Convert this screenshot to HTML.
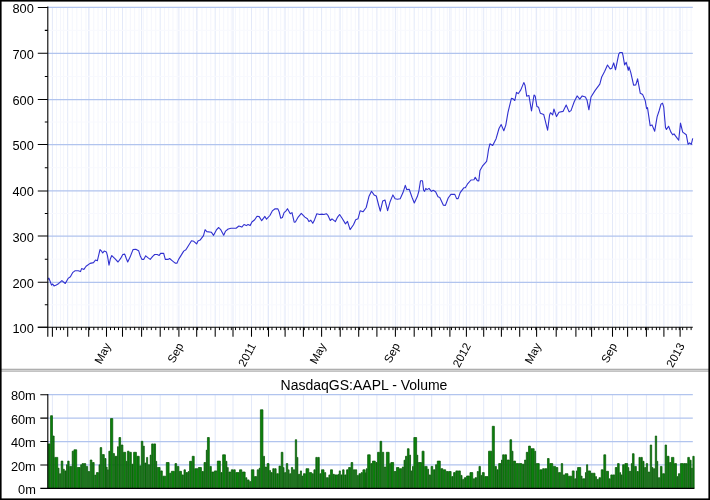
<!DOCTYPE html><html><head><meta charset="utf-8"><title>AAPL</title>
<style>html,body{margin:0;padding:0;background:#fff}svg{display:block}text{font-family:"Liberation Sans",Arial,Helvetica,sans-serif;fill:#000}</style></head><body>
<svg width="710" height="500" viewBox="0 0 710 500">
<rect x="0" y="0" width="710" height="500" fill="#fff"/>
<path d="M56.43 7.2V327.3M60.45 7.2V327.3M63.67 7.2V327.3M72.27 7.2V327.3M76.83 7.2V327.3M81.40 7.2V327.3M85.96 7.2V327.3M89.55 7.2V327.3M93.79 7.2V327.3M98.02 7.2V327.3M102.26 7.2V327.3M110.50 7.2V327.3M114.50 7.2V327.3M118.50 7.2V327.3M125.97 7.2V327.3M130.31 7.2V327.3M134.65 7.2V327.3M139.00 7.2V327.3M143.37 7.2V327.3M146.91 7.2V327.3M151.34 7.2V327.3M155.77 7.2V327.3M164.45 7.2V327.3M168.70 7.2V327.3M172.95 7.2V327.3M177.20 7.2V327.3M181.44 7.2V327.3M184.83 7.2V327.3M189.07 7.2V327.3M193.31 7.2V327.3M197.58 7.2V327.3M201.99 7.2V327.3M206.39 7.2V327.3M210.80 7.2V327.3M219.44 7.2V327.3M223.68 7.2V327.3M227.91 7.2V327.3M231.30 7.2V327.3M235.52 7.2V327.3M239.73 7.2V327.3M243.93 7.2V327.3M247.30 7.2V327.3M255.75 7.2V327.3M260.00 7.2V327.3M263.40 7.2V327.3M267.65 7.2V327.3M271.99 7.2V327.3M276.36 7.2V327.3M280.73 7.2V327.3M284.23 7.2V327.3M288.28 7.2V327.3M292.26 7.2V327.3M296.24 7.2V327.3M300.22 7.2V327.3M304.31 7.2V327.3M308.86 7.2V327.3M313.41 7.2V327.3M317.05 7.2V327.3M326.03 7.2V327.3M330.46 7.2V327.3M334.89 7.2V327.3M339.31 7.2V327.3M342.72 7.2V327.3M346.93 7.2V327.3M351.13 7.2V327.3M355.34 7.2V327.3M359.61 7.2V327.3M363.25 7.2V327.3M367.80 7.2V327.3M372.35 7.2V327.3M380.92 7.2V327.3M384.94 7.2V327.3M388.97 7.2V327.3M392.99 7.2V327.3M397.19 7.2V327.3M400.77 7.2V327.3M405.25 7.2V327.3M409.72 7.2V327.3M418.37 7.2V327.3M422.53 7.2V327.3M426.70 7.2V327.3M430.87 7.2V327.3M435.17 7.2V327.3M439.50 7.2V327.3M443.83 7.2V327.3M447.30 7.2V327.3M451.47 7.2V327.3M455.40 7.2V327.3M459.33 7.2V327.3M463.26 7.2V327.3M469.86 7.2V327.3M474.19 7.2V327.3M477.64 7.2V327.3M481.97 7.2V327.3M486.36 7.2V327.3M490.78 7.2V327.3M495.20 7.2V327.3M498.74 7.2V327.3M503.06 7.2V327.3M507.22 7.2V327.3M511.38 7.2V327.3M515.54 7.2V327.3M523.08 7.2V327.3M527.30 7.2V327.3M531.53 7.2V327.3M535.75 7.2V327.3M540.16 7.2V327.3M544.62 7.2V327.3M549.07 7.2V327.3M553.53 7.2V327.3M557.14 7.2V327.3M561.83 7.2V327.3M566.52 7.2V327.3M571.21 7.2V327.3M578.89 7.2V327.3M582.63 7.2V327.3M586.37 7.2V327.3M590.10 7.2V327.3M594.33 7.2V327.3M598.87 7.2V327.3M603.41 7.2V327.3M607.96 7.2V327.3M615.68 7.2V327.3M619.65 7.2V327.3M623.63 7.2V327.3M632.08 7.2V327.3M636.55 7.2V327.3M641.03 7.2V327.3M645.50 7.2V327.3M648.07 7.2V327.3M652.23 7.2V327.3M656.40 7.2V327.3M659.73 7.2V327.3M667.95 7.2V327.3M672.00 7.2V327.3M676.05 7.2V327.3M679.29 7.2V327.3M682.64 7.2V327.3M686.87 7.2V327.3M691.11 7.2V327.3" stroke="#f4f6fd" stroke-width="1" fill="none"/><path d="M52.40 7.2V327.3M67.70 7.2V327.3M88.70 7.2V327.3M106.50 7.2V327.3M122.50 7.2V327.3M141.60 7.2V327.3M160.20 7.2V327.3M178.90 7.2V327.3M196.70 7.2V327.3M215.20 7.2V327.3M233.00 7.2V327.3M251.50 7.2V327.3M268.50 7.2V327.3M285.10 7.2V327.3M303.40 7.2V327.3M321.60 7.2V327.3M340.20 7.2V327.3M358.70 7.2V327.3M376.90 7.2V327.3M395.40 7.2V327.3M414.20 7.2V327.3M431.70 7.2V327.3M449.90 7.2V327.3M466.40 7.2V327.3M483.70 7.2V327.3M501.40 7.2V327.3M519.70 7.2V327.3M536.60 7.2V327.3M556.20 7.2V327.3M575.90 7.2V327.3M591.60 7.2V327.3M612.50 7.2V327.3M627.60 7.2V327.3M646.40 7.2V327.3M663.90 7.2V327.3M680.10 7.2V327.3" stroke="#e3e9f9" stroke-width="1" fill="none"/>
<path d="M47.8 304.80H692.8M47.8 259.15H692.8M47.8 213.45H692.8M47.8 167.70H692.8M47.8 122.00H692.8M47.8 76.40H692.8M47.8 30.35H692.8" stroke="#f8f9fe" stroke-width="1" fill="none"/>
<path d="M47.8 282.30H692.8M47.8 236.00H692.8M47.8 190.90H692.8M47.8 144.50H692.8M47.8 99.50H692.8M47.8 53.30H692.8M47.8 7.40H692.8" stroke="#b1c4ee" stroke-width="1.25" fill="none"/>
<path d="M47.8 279.5 L48.9 278.2 L50.1 281.2 L51.5 285.1 L52.7 284.0 L54.0 285.9 L56.3 284.9 L58.5 283.7 L61.9 280.6 L65.3 283.5 L68.1 278.4 L70.4 276.7 L72.6 272.7 L74.9 270.8 L78.2 270.8 L80.5 271.6 L81.6 268.6 L83.9 269.4 L86.1 266.3 L90.1 263.4 L93.5 262.6 L95.5 260.0 L97.4 260.7 L100.0 249.6 L101.3 250.8 L102.7 253.0 L104.2 251.1 L106.4 251.9 L107.5 255.8 L109.0 265.2 L110.4 258.7 L111.8 255.6 L114.9 258.7 L118.0 262.0 L120.5 258.7 L122.8 254.5 L124.7 254.1 L126.2 258.2 L127.7 262.0 L130.1 257.1 L133.0 249.6 L135.8 249.2 L138.6 250.7 L140.3 256.0 L142.0 259.4 L143.7 259.4 L145.7 255.8 L148.2 257.9 L150.2 259.4 L152.7 256.3 L154.7 254.5 L157.2 254.5 L159.2 255.4 L160.6 253.4 L163.7 253.4 L165.3 259.4 L167.9 259.4 L169.6 258.5 L172.4 260.8 L175.2 263.1 L176.9 263.3 L178.6 259.4 L181.4 254.9 L183.7 251.1 L185.9 249.8 L188.7 245.3 L191.5 240.8 L193.8 241.3 L196.6 243.9 L198.0 241.0 L200.1 240.1 L203.5 235.6 L205.1 229.7 L206.8 231.6 L211.3 232.2 L213.6 235.3 L216.4 229.9 L218.7 227.5 L220.9 229.9 L223.7 235.3 L225.6 231.1 L228.2 229.0 L231.1 228.2 L236.1 228.2 L238.9 226.0 L241.8 227.1 L244.0 224.5 L246.3 225.6 L248.0 224.5 L250.2 225.6 L251.9 222.0 L254.7 219.8 L257.0 216.2 L259.2 216.6 L261.7 220.7 L264.9 216.4 L266.5 219.2 L269.9 215.5 L272.3 210.9 L275.1 208.7 L277.9 208.9 L279.2 212.0 L280.7 218.2 L282.4 217.5 L284.1 212.6 L285.8 211.1 L287.5 208.7 L290.3 213.7 L292.0 212.6 L294.2 222.2 L295.4 222.0 L298.2 217.1 L301.3 213.4 L304.9 217.1 L307.4 218.8 L308.9 221.6 L310.8 220.2 L312.8 223.3 L314.5 219.9 L316.8 213.7 L319.6 214.5 L321.8 214.1 L323.9 214.5 L326.3 213.7 L328.0 215.4 L330.3 220.5 L332.0 218.8 L335.4 221.6 L337.6 217.1 L339.6 214.5 L342.1 218.2 L345.5 223.9 L347.5 221.4 L350.1 229.6 L353.5 224.8 L355.7 219.7 L358.0 218.8 L360.2 210.7 L363.0 211.8 L366.2 207.5 L368.9 196.6 L371.5 191.3 L374.1 194.9 L376.3 196.0 L378.6 205.0 L380.3 211.2 L382.7 201.1 L385.0 200.0 L387.6 210.7 L390.1 201.7 L392.9 194.9 L395.1 198.8 L397.4 199.2 L400.2 198.8 L403.0 192.6 L405.3 185.3 L406.7 189.5 L409.2 189.3 L412.0 197.2 L414.3 203.0 L417.3 196.6 L418.8 191.5 L420.5 180.8 L422.5 180.8 L423.6 190.2 L424.6 191.4 L425.8 188.4 L427.0 189.6 L429.0 188.4 L431.4 191.4 L433.2 190.2 L435.6 191.7 L438.0 196.8 L439.8 197.4 L443.4 205.2 L445.4 205.4 L448.2 198.0 L450.9 194.4 L454.8 194.4 L456.6 198.6 L458.1 198.6 L460.2 192.6 L463.8 187.8 L465.3 187.8 L467.4 184.2 L471.0 180.0 L474.0 179.7 L475.2 177.3 L477.3 180.6 L478.8 180.9 L480.0 170.4 L482.4 166.2 L486.6 161.4 L487.6 156.0 L488.5 149.7 L489.9 143.8 L492.7 145.5 L496.1 138.7 L499.0 128.5 L501.2 124.6 L503.8 130.7 L505.8 125.1 L508.0 112.4 L511.4 98.4 L513.1 98.8 L514.8 100.5 L516.5 92.3 L518.2 93.7 L520.8 89.9 L523.8 82.6 L525.0 85.2 L526.7 96.2 L528.9 95.4 L531.5 111.0 L534.0 95.0 L535.2 96.2 L536.9 106.4 L538.6 107.3 L540.3 113.2 L543.7 114.4 L547.6 130.2 L549.6 114.9 L550.5 112.7 L552.7 114.9 L553.9 109.0 L556.5 116.6 L559.0 112.2 L563.0 111.4 L566.2 105.0 L569.1 111.9 L571.0 110.6 L574.2 101.8 L577.1 95.9 L579.8 99.1 L582.2 95.9 L585.4 97.0 L587.0 100.2 L588.9 109.8 L591.0 97.0 L595.0 90.6 L599.8 84.2 L601.7 77.0 L604.6 71.4 L607.5 65.0 L610.2 69.0 L611.8 68.2 L613.7 62.9 L615.5 69.8 L618.7 54.3 L619.8 52.5 L622.2 52.5 L623.0 55.4 L624.6 65.0 L626.2 62.3 L628.3 70.3 L629.0 66.8 L630.8 72.6 L633.6 85.2 L635.8 84.9 L637.6 78.9 L640.3 93.3 L642.7 94.6 L645.2 100.5 L646.6 108.6 L647.5 107.7 L650.2 125.8 L652.0 124.9 L654.7 131.2 L657.1 116.8 L659.2 110.5 L661.0 104.1 L662.5 103.2 L663.7 106.8 L665.5 127.6 L666.4 129.4 L668.6 126.3 L670.9 132.1 L672.7 134.8 L674.0 133.9 L677.3 138.4 L678.7 140.2 L680.5 123.1 L682.7 132.1 L686.3 134.8 L688.1 144.3 L689.5 142.9 L691.3 144.3 L692.7 138.4" stroke="#3030d0" stroke-width="1.1" fill="none" stroke-linejoin="round"/>
<path d="M47.8 6.6V336.8" stroke="#000" stroke-width="1.1" fill="none"/>
<path d="M37.8 327.3H692.8" stroke="#000" stroke-width="1.1" fill="none"/>
<path d="M37.8 327.30H47.8M37.8 282.30H47.8M37.8 236.00H47.8M37.8 190.90H47.8M37.8 144.50H47.8M37.8 99.50H47.8M37.8 53.30H47.8M37.8 7.40H47.8" stroke="#000" stroke-width="1.05" fill="none"/>
<path d="M44.8 304.80H47.8M44.8 259.15H47.8M44.8 213.45H47.8M44.8 167.70H47.8M44.8 122.00H47.8M44.8 76.40H47.8M44.8 30.35H47.8" stroke="#000" stroke-width="1.05" fill="none"/>
<text x="33.8" y="332.8" font-size="12.8" text-anchor="end">100</text>
<text x="33.8" y="287.8" font-size="12.8" text-anchor="end">200</text>
<text x="33.8" y="241.5" font-size="12.8" text-anchor="end">300</text>
<text x="33.8" y="196.4" font-size="12.8" text-anchor="end">400</text>
<text x="33.8" y="150.0" font-size="12.8" text-anchor="end">500</text>
<text x="33.8" y="105.0" font-size="12.8" text-anchor="end">600</text>
<text x="33.8" y="58.8" font-size="12.8" text-anchor="end">700</text>
<text x="33.8" y="12.9" font-size="12.8" text-anchor="end">800</text>
<path d="M52.40 327.3V336.8M67.70 327.3V336.8M88.70 327.3V336.8M106.50 327.3V336.8M122.50 327.3V336.8M141.60 327.3V336.8M160.20 327.3V336.8M178.90 327.3V336.8M196.70 327.3V336.8M215.20 327.3V336.8M233.00 327.3V336.8M251.50 327.3V336.8M268.50 327.3V336.8M285.10 327.3V336.8M303.40 327.3V336.8M321.60 327.3V336.8M340.20 327.3V336.8M358.70 327.3V336.8M376.90 327.3V336.8M395.40 327.3V336.8M414.20 327.3V336.8M431.70 327.3V336.8M449.90 327.3V336.8M466.40 327.3V336.8M483.70 327.3V336.8M501.40 327.3V336.8M519.70 327.3V336.8M536.60 327.3V336.8M556.20 327.3V336.8M575.90 327.3V336.8M591.60 327.3V336.8M612.50 327.3V336.8M627.60 327.3V336.8M646.40 327.3V336.8M663.90 327.3V336.8M680.10 327.3V336.8" stroke="#000" stroke-width="1.05" fill="none"/>
<path d="M56.43 327.3V330.1M60.45 327.3V330.1M63.67 327.3V330.1M72.27 327.3V330.1M76.83 327.3V330.1M81.40 327.3V330.1M85.96 327.3V330.1M89.55 327.3V330.1M93.79 327.3V330.1M98.02 327.3V330.1M102.26 327.3V330.1M110.50 327.3V330.1M114.50 327.3V330.1M118.50 327.3V330.1M125.97 327.3V330.1M130.31 327.3V330.1M134.65 327.3V330.1M139.00 327.3V330.1M143.37 327.3V330.1M146.91 327.3V330.1M151.34 327.3V330.1M155.77 327.3V330.1M164.45 327.3V330.1M168.70 327.3V330.1M172.95 327.3V330.1M177.20 327.3V330.1M181.44 327.3V330.1M184.83 327.3V330.1M189.07 327.3V330.1M193.31 327.3V330.1M197.58 327.3V330.1M201.99 327.3V330.1M206.39 327.3V330.1M210.80 327.3V330.1M219.44 327.3V330.1M223.68 327.3V330.1M227.91 327.3V330.1M231.30 327.3V330.1M235.52 327.3V330.1M239.73 327.3V330.1M243.93 327.3V330.1M247.30 327.3V330.1M255.75 327.3V330.1M260.00 327.3V330.1M263.40 327.3V330.1M267.65 327.3V330.1M271.99 327.3V330.1M276.36 327.3V330.1M280.73 327.3V330.1M284.23 327.3V330.1M288.28 327.3V330.1M292.26 327.3V330.1M296.24 327.3V330.1M300.22 327.3V330.1M304.31 327.3V330.1M308.86 327.3V330.1M313.41 327.3V330.1M317.05 327.3V330.1M326.03 327.3V330.1M330.46 327.3V330.1M334.89 327.3V330.1M339.31 327.3V330.1M342.72 327.3V330.1M346.93 327.3V330.1M351.13 327.3V330.1M355.34 327.3V330.1M359.61 327.3V330.1M363.25 327.3V330.1M367.80 327.3V330.1M372.35 327.3V330.1M380.92 327.3V330.1M384.94 327.3V330.1M388.97 327.3V330.1M392.99 327.3V330.1M397.19 327.3V330.1M400.77 327.3V330.1M405.25 327.3V330.1M409.72 327.3V330.1M418.37 327.3V330.1M422.53 327.3V330.1M426.70 327.3V330.1M430.87 327.3V330.1M435.17 327.3V330.1M439.50 327.3V330.1M443.83 327.3V330.1M447.30 327.3V330.1M451.47 327.3V330.1M455.40 327.3V330.1M459.33 327.3V330.1M463.26 327.3V330.1M469.86 327.3V330.1M474.19 327.3V330.1M477.64 327.3V330.1M481.97 327.3V330.1M486.36 327.3V330.1M490.78 327.3V330.1M495.20 327.3V330.1M498.74 327.3V330.1M503.06 327.3V330.1M507.22 327.3V330.1M511.38 327.3V330.1M515.54 327.3V330.1M523.08 327.3V330.1M527.30 327.3V330.1M531.53 327.3V330.1M535.75 327.3V330.1M540.16 327.3V330.1M544.62 327.3V330.1M549.07 327.3V330.1M553.53 327.3V330.1M557.14 327.3V330.1M561.83 327.3V330.1M566.52 327.3V330.1M571.21 327.3V330.1M578.89 327.3V330.1M582.63 327.3V330.1M586.37 327.3V330.1M590.10 327.3V330.1M594.33 327.3V330.1M598.87 327.3V330.1M603.41 327.3V330.1M607.96 327.3V330.1M615.68 327.3V330.1M619.65 327.3V330.1M623.63 327.3V330.1M632.08 327.3V330.1M636.55 327.3V330.1M641.03 327.3V330.1M645.50 327.3V330.1M648.07 327.3V330.1M652.23 327.3V330.1M656.40 327.3V330.1M659.73 327.3V330.1M667.95 327.3V330.1M672.00 327.3V330.1M676.05 327.3V330.1M679.29 327.3V330.1M682.64 327.3V330.1M686.87 327.3V330.1M691.11 327.3V330.1" stroke="#000" stroke-width="1" fill="none"/>
<text x="111.3" y="345.6" font-size="11.5" text-anchor="end" transform="rotate(-62 111.3 345.6)">May</text>
<text x="183.7" y="345.6" font-size="11.5" text-anchor="end" transform="rotate(-62 183.7 345.6)">Sep</text>
<text x="256.3" y="345.6" font-size="11.5" text-anchor="end" transform="rotate(-62 256.3 345.6)">2011</text>
<text x="326.4" y="345.6" font-size="11.5" text-anchor="end" transform="rotate(-62 326.4 345.6)">May</text>
<text x="400.2" y="345.6" font-size="11.5" text-anchor="end" transform="rotate(-62 400.2 345.6)">Sep</text>
<text x="471.2" y="345.6" font-size="11.5" text-anchor="end" transform="rotate(-62 471.2 345.6)">2012</text>
<text x="541.4" y="345.6" font-size="11.5" text-anchor="end" transform="rotate(-62 541.4 345.6)">May</text>
<text x="617.3" y="345.6" font-size="11.5" text-anchor="end" transform="rotate(-62 617.3 345.6)">Sep</text>
<text x="684.9" y="345.6" font-size="11.5" text-anchor="end" transform="rotate(-62 684.9 345.6)">2013</text>
<rect x="0" y="368.8" width="710" height="3.0" fill="#dcdcdc"/>
<rect x="0" y="368.8" width="710" height="1" fill="#a4a4a4"/>
<rect x="0" y="370.7" width="710" height="1" fill="#b6b6b6"/>
<path d="M52.40 394.7V488.4M67.70 394.7V488.4M88.70 394.7V488.4M106.50 394.7V488.4M122.50 394.7V488.4M141.60 394.7V488.4M160.20 394.7V488.4M178.90 394.7V488.4M196.70 394.7V488.4M215.20 394.7V488.4M233.00 394.7V488.4M251.50 394.7V488.4M268.50 394.7V488.4M285.10 394.7V488.4M303.40 394.7V488.4M321.60 394.7V488.4M340.20 394.7V488.4M358.70 394.7V488.4M376.90 394.7V488.4M395.40 394.7V488.4M414.20 394.7V488.4M431.70 394.7V488.4M449.90 394.7V488.4M466.40 394.7V488.4M483.70 394.7V488.4M501.40 394.7V488.4M519.70 394.7V488.4M536.60 394.7V488.4M556.20 394.7V488.4M575.90 394.7V488.4M591.60 394.7V488.4M612.50 394.7V488.4M627.60 394.7V488.4M646.40 394.7V488.4M663.90 394.7V488.4M680.10 394.7V488.4" stroke="#e3e9f9" stroke-width="1" fill="none"/>
<path d="M47.8 464.97H692.8M47.8 441.55H692.8M47.8 418.12H692.8M47.8 394.70H692.8" stroke="#b1c4ee" stroke-width="1.25" fill="none"/>
<path d="M48.10 488.4V443.9h1.88V488.4zM50.58 488.4V415.7h1.88V488.4zM53.06 488.4V436.0h1.09V488.4zM54.75 488.4V457.4h3.01V488.4zM58.36 488.4V468.1h0.64V488.4zM59.60 488.4V473.7h0.98V488.4zM61.17 488.4V461.1h1.65V488.4zM63.43 488.4V469.2h0.86V488.4zM64.89 488.4V470.9h1.09V488.4zM66.58 488.4V464.7h0.53V488.4zM67.71 488.4V461.1h1.43V488.4zM69.74 488.4V466.4h1.88V488.4zM72.22 488.4V451.2h1.09V488.4zM73.91 488.4V449.8h2.78V488.4zM77.29 488.4V467.5h2.78V488.4zM80.67 488.4V464.7h0.86V488.4zM82.13 488.4V463.6h1.48V488.4zM84.22 488.4V463.6h1.48V488.4zM86.30 488.4V466.4h1.32V488.4zM88.22 488.4V471.5h1.43V488.4zM90.24 488.4V460.0h1.65V488.4zM92.50 488.4V462.5h1.65V488.4zM94.75 488.4V475.1h1.09V488.4zM96.44 488.4V472.6h1.99V488.4zM99.03 488.4V464.7h0.53V488.4zM100.16 488.4V447.6h1.54V488.4zM102.30 488.4V454.6h1.99V488.4zM104.89 488.4V458.5h1.09V488.4zM106.58 488.4V467.0h0.53V488.4zM107.71 488.4V469.8h0.53V488.4zM108.84 488.4V451.2h1.09V488.4zM110.53 488.4V418.6h2.22V488.4zM113.34 488.4V453.5h1.09V488.4zM115.03 488.4V456.3h1.88V488.4zM117.51 488.4V446.7h0.86V488.4zM118.98 488.4V437.5h1.65V488.4zM121.23 488.4V445.0h1.65V488.4zM123.48 488.4V452.3h2.22V488.4zM126.30 488.4V461.3h0.53V488.4zM127.43 488.4V451.2h1.65V488.4zM129.68 488.4V452.3h1.65V488.4zM131.93 488.4V464.2h1.09V488.4zM133.62 488.4V452.3h2.78V488.4zM137.00 488.4V456.3h2.22V488.4zM139.82 488.4V465.8h0.86V488.4zM141.29 488.4V441.3h1.54V488.4zM143.43 488.4V446.1h0.86V488.4zM144.89 488.4V463.0h1.09V488.4zM146.58 488.4V457.4h1.09V488.4zM148.27 488.4V464.7h1.32V488.4zM150.19 488.4V455.1h0.86V488.4zM151.65 488.4V443.9h1.65V488.4zM153.91 488.4V443.9h1.65V488.4zM156.16 488.4V461.3h0.53V488.4zM157.29 488.4V467.5h2.78V488.4zM160.67 488.4V470.9h1.65V488.4zM162.92 488.4V476.2h2.78V488.4zM166.30 488.4V462.5h2.78V488.4zM169.68 488.4V473.2h1.09V488.4zM171.37 488.4V471.3h3.01V488.4zM174.98 488.4V463.6h1.65V488.4zM177.23 488.4V466.4h1.65V488.4zM179.48 488.4V471.3h1.99V488.4zM182.07 488.4V474.9h1.32V488.4zM183.99 488.4V469.8h1.43V488.4zM186.02 488.4V472.6h1.65V488.4zM188.27 488.4V471.5h0.75V488.4zM189.62 488.4V461.3h1.99V488.4zM192.22 488.4V456.3h1.99V488.4zM194.81 488.4V468.7h3.01V488.4zM198.41 488.4V467.5h3.01V488.4zM202.02 488.4V471.5h1.43V488.4zM204.05 488.4V462.5h1.65V488.4zM206.30 488.4V450.1h0.53V488.4zM207.43 488.4V437.5h1.88V488.4zM209.91 488.4V466.4h1.43V488.4zM211.93 488.4V472.0h1.88V488.4zM214.41 488.4V470.9h2.33V488.4zM217.34 488.4V461.1h3.01V488.4zM220.95 488.4V472.6h1.09V488.4zM222.64 488.4V454.8h2.78V488.4zM226.02 488.4V461.3h0.86V488.4zM227.48 488.4V467.5h0.75V488.4zM228.84 488.4V472.0h1.88V488.4zM231.31 488.4V469.8h1.65V488.4zM233.57 488.4V469.8h1.65V488.4zM235.82 488.4V472.6h3.12V488.4zM239.54 488.4V469.8h2.22V488.4zM242.36 488.4V472.0h2.78V488.4zM245.74 488.4V477.7h1.09V488.4zM247.43 488.4V479.9h1.65V488.4zM249.68 488.4V481.6h1.09V488.4zM251.37 488.4V469.8h2.55V488.4zM254.53 488.4V476.6h2.10V488.4zM257.23 488.4V469.8h1.43V488.4zM259.26 488.4V468.1h0.53V488.4zM260.38 488.4V409.8h2.55V488.4zM263.54 488.4V456.3h0.98V488.4zM265.12 488.4V467.0h1.43V488.4zM267.15 488.4V463.6h1.88V488.4zM269.62 488.4V470.4h0.86V488.4zM271.09 488.4V472.6h1.09V488.4zM272.78 488.4V468.7h1.37V488.4zM274.75 488.4V468.7h1.37V488.4zM276.72 488.4V473.7h1.65V488.4zM278.98 488.4V466.1h1.65V488.4zM281.23 488.4V452.3h1.65V488.4zM283.48 488.4V467.5h0.53V488.4zM284.61 488.4V472.6h1.09V488.4zM286.30 488.4V463.6h1.43V488.4zM288.33 488.4V469.8h0.75V488.4zM289.68 488.4V473.7h1.09V488.4zM291.37 488.4V467.5h1.32V488.4zM293.29 488.4V469.8h1.43V488.4zM295.31 488.4V439.7h1.32V488.4zM297.23 488.4V457.4h0.64V488.4zM298.47 488.4V474.3h1.32V488.4zM300.38 488.4V470.9h1.09V488.4zM302.07 488.4V476.0h0.75V488.4zM303.43 488.4V473.7h1.99V488.4zM306.02 488.4V468.7h2.78V488.4zM309.40 488.4V472.6h2.22V488.4zM312.22 488.4V473.7h1.09V488.4zM313.91 488.4V469.8h1.32V488.4zM315.82 488.4V457.4h1.43V488.4zM317.85 488.4V457.4h1.43V488.4zM319.88 488.4V473.7h0.98V488.4zM321.45 488.4V469.8h2.55V488.4zM324.61 488.4V472.6h1.09V488.4zM326.30 488.4V477.7h1.99V488.4zM328.89 488.4V474.9h0.98V488.4zM330.47 488.4V469.8h1.99V488.4zM333.06 488.4V474.3h1.32V488.4zM334.98 488.4V474.9h2.55V488.4zM338.13 488.4V474.3h0.53V488.4zM339.26 488.4V470.9h1.09V488.4zM340.95 488.4V474.9h1.09V488.4zM342.64 488.4V469.8h1.43V488.4zM344.67 488.4V474.9h1.32V488.4zM346.58 488.4V469.8h1.43V488.4zM348.61 488.4V467.5h1.88V488.4zM351.09 488.4V462.5h1.65V488.4zM353.34 488.4V469.8h1.37V488.4zM355.31 488.4V469.8h1.37V488.4zM357.29 488.4V475.4h1.09V488.4zM358.98 488.4V473.7h1.65V488.4zM361.23 488.4V472.6h1.09V488.4zM362.92 488.4V469.8h2.22V488.4zM365.74 488.4V472.6h-0.04V488.4zM366.30 488.4V468.7h0.75V488.4zM367.65 488.4V454.8h2.55V488.4zM370.81 488.4V463.6h1.09V488.4zM372.50 488.4V461.1h2.78V488.4zM375.88 488.4V462.5h1.09V488.4zM377.57 488.4V452.3h1.88V488.4zM380.05 488.4V441.3h1.65V488.4zM382.30 488.4V452.3h1.43V488.4zM384.33 488.4V467.0h1.43V488.4zM386.36 488.4V452.3h2.78V488.4zM389.74 488.4V463.6h0.53V488.4zM390.86 488.4V462.5h2.78V488.4zM394.24 488.4V471.5h1.65V488.4zM396.50 488.4V467.5h2.44V488.4zM399.54 488.4V468.7h2.22V488.4zM402.36 488.4V467.0h1.09V488.4zM404.05 488.4V460.2h0.86V488.4zM405.51 488.4V456.3h1.32V488.4zM407.43 488.4V448.7h1.65V488.4zM409.68 488.4V455.1h0.86V488.4zM411.15 488.4V470.9h0.75V488.4zM412.50 488.4V466.4h0.75V488.4zM413.85 488.4V437.5h2.78V488.4zM417.23 488.4V455.1h0.53V488.4zM418.36 488.4V462.5h3.12V488.4zM422.07 488.4V451.2h1.99V488.4zM424.67 488.4V466.4h2.44V488.4zM427.71 488.4V469.2h0.86V488.4zM429.17 488.4V474.9h1.32V488.4zM431.09 488.4V466.4h1.65V488.4zM433.34 488.4V469.8h1.65V488.4zM435.60 488.4V464.7h1.09V488.4zM437.29 488.4V461.1h3.01V488.4zM440.89 488.4V468.7h1.99V488.4zM443.48 488.4V469.8h2.22V488.4zM446.30 488.4V471.5h1.65V488.4zM448.55 488.4V471.5h2.55V488.4zM451.71 488.4V476.6h1.32V488.4zM453.62 488.4V472.6h1.65V488.4zM455.88 488.4V470.9h1.94V488.4zM458.41 488.4V470.9h1.94V488.4zM460.95 488.4V475.4h1.09V488.4zM462.64 488.4V479.4h1.09V488.4zM464.33 488.4V477.7h1.65V488.4zM466.58 488.4V476.0h2.78V488.4zM469.96 488.4V472.6h2.78V488.4zM473.34 488.4V478.8h1.09V488.4zM475.03 488.4V477.7h1.65V488.4zM477.29 488.4V471.5h1.09V488.4zM478.98 488.4V466.4h1.43V488.4zM481.00 488.4V475.4h0.75V488.4zM482.36 488.4V472.6h1.88V488.4zM484.84 488.4V476.6h3.12V488.4zM488.55 488.4V451.2h3.12V488.4zM492.27 488.4V426.3h2.10V488.4zM494.98 488.4V466.4h1.43V488.4zM497.00 488.4V469.8h1.09V488.4zM498.69 488.4V463.6h2.22V488.4zM501.51 488.4V460.0h0.53V488.4zM502.64 488.4V454.8h1.65V488.4zM504.89 488.4V454.8h1.65V488.4zM507.15 488.4V460.0h2.22V488.4zM509.96 488.4V439.7h1.65V488.4zM512.22 488.4V451.2h0.75V488.4zM513.57 488.4V461.1h1.99V488.4zM516.16 488.4V463.6h2.50V488.4zM519.26 488.4V463.6h2.50V488.4zM522.36 488.4V464.2h1.65V488.4zM524.61 488.4V460.0h1.09V488.4zM526.30 488.4V452.3h1.65V488.4zM528.55 488.4V446.1h1.88V488.4zM531.03 488.4V448.7h3.12V488.4zM534.75 488.4V451.2h0.86V488.4zM536.22 488.4V463.6h3.01V488.4zM539.82 488.4V469.8h2.22V488.4zM542.64 488.4V468.7h1.65V488.4zM544.89 488.4V468.7h1.99V488.4zM547.48 488.4V458.5h1.65V488.4zM549.74 488.4V463.6h3.01V488.4zM553.34 488.4V466.4h2.22V488.4zM556.16 488.4V467.5h1.65V488.4zM558.41 488.4V472.6h2.22V488.4zM561.23 488.4V463.6h1.43V488.4zM563.26 488.4V474.9h1.32V488.4zM565.17 488.4V473.7h2.78V488.4zM568.55 488.4V476.2h3.12V488.4zM572.27 488.4V470.9h1.88V488.4zM574.75 488.4V478.8h1.09V488.4zM576.44 488.4V470.9h0.53V488.4zM577.57 488.4V467.5h3.12V488.4zM581.29 488.4V476.0h0.75V488.4zM582.64 488.4V478.8h2.22V488.4zM585.45 488.4V472.6h0.53V488.4zM586.58 488.4V464.7h1.09V488.4zM588.27 488.4V470.9h2.22V488.4zM591.09 488.4V473.2h1.65V488.4zM593.34 488.4V473.2h1.65V488.4zM595.60 488.4V476.6h0.86V488.4zM597.06 488.4V479.4h1.32V488.4zM598.98 488.4V477.7h1.65V488.4zM601.23 488.4V469.8h1.99V488.4zM603.82 488.4V454.8h1.88V488.4zM606.30 488.4V471.3h2.22V488.4zM609.12 488.4V478.8h1.09V488.4zM610.81 488.4V474.9h1.65V488.4zM613.06 488.4V474.9h1.65V488.4zM615.31 488.4V467.5h1.65V488.4zM617.57 488.4V463.6h1.65V488.4zM619.82 488.4V472.6h0.75V488.4zM621.17 488.4V474.9h0.86V488.4zM622.64 488.4V464.7h1.65V488.4zM624.89 488.4V463.6h2.78V488.4zM628.27 488.4V467.5h0.53V488.4zM629.40 488.4V471.3h1.32V488.4zM631.31 488.4V463.6h0.53V488.4zM632.44 488.4V453.7h1.65V488.4zM634.69 488.4V466.4h1.65V488.4zM636.95 488.4V471.5h1.43V488.4zM638.98 488.4V457.4h1.37V488.4zM640.95 488.4V457.4h1.37V488.4zM642.92 488.4V461.3h1.09V488.4zM644.61 488.4V467.5h1.09V488.4zM646.30 488.4V463.6h1.32V488.4zM648.22 488.4V472.0h1.43V488.4zM650.24 488.4V445.0h1.43V488.4zM652.27 488.4V467.5h0.75V488.4zM653.62 488.4V468.7h1.09V488.4zM655.31 488.4V436.0h1.32V488.4zM657.23 488.4V461.3h0.53V488.4zM658.36 488.4V477.7h1.43V488.4zM660.38 488.4V466.4h1.65V488.4zM662.64 488.4V473.7h1.88V488.4zM665.12 488.4V445.0h1.43V488.4zM667.15 488.4V456.3h1.88V488.4zM669.62 488.4V462.5h1.20V488.4zM671.43 488.4V457.4h2.44V488.4zM674.47 488.4V463.6h1.99V488.4zM677.06 488.4V476.6h0.75V488.4zM678.41 488.4V473.7h1.43V488.4zM680.44 488.4V463.6h3.01V488.4zM684.05 488.4V463.6h1.65V488.4zM686.30 488.4V463.6h0.86V488.4zM687.76 488.4V457.4h1.65V488.4zM690.02 488.4V460.2h1.09V488.4zM691.71 488.4V468.1h0.53V488.4zM692.84 488.4V456.3h1.32V488.4z" fill="#0c820c" stroke="#085a08" stroke-width="0.75"/>
<path d="M47.8 394.1V489.0" stroke="#000" stroke-width="1.1" fill="none"/>
<path d="M40.3 488.4H694.3" stroke="#000" stroke-width="1.1" fill="none"/>
<path d="M40.3 464.97H47.8M40.3 441.55H47.8M40.3 418.12H47.8M40.3 394.70H47.8" stroke="#000" stroke-width="1.05" fill="none"/>
<text x="35.8" y="493.9" font-size="12.8" text-anchor="end">0m</text>
<text x="35.8" y="470.5" font-size="12.8" text-anchor="end">20m</text>
<text x="35.8" y="447.0" font-size="12.8" text-anchor="end">40m</text>
<text x="35.8" y="423.6" font-size="12.8" text-anchor="end">60m</text>
<text x="35.8" y="400.2" font-size="12.8" text-anchor="end">80m</text>
<text x="364" y="389.5" font-size="14" text-anchor="middle">NasdaqGS:AAPL - Volume</text>
<rect x="0.8" y="0.8" width="708.4" height="498.4" fill="none" stroke="#000" stroke-width="1.6"/>
</svg></body></html>
